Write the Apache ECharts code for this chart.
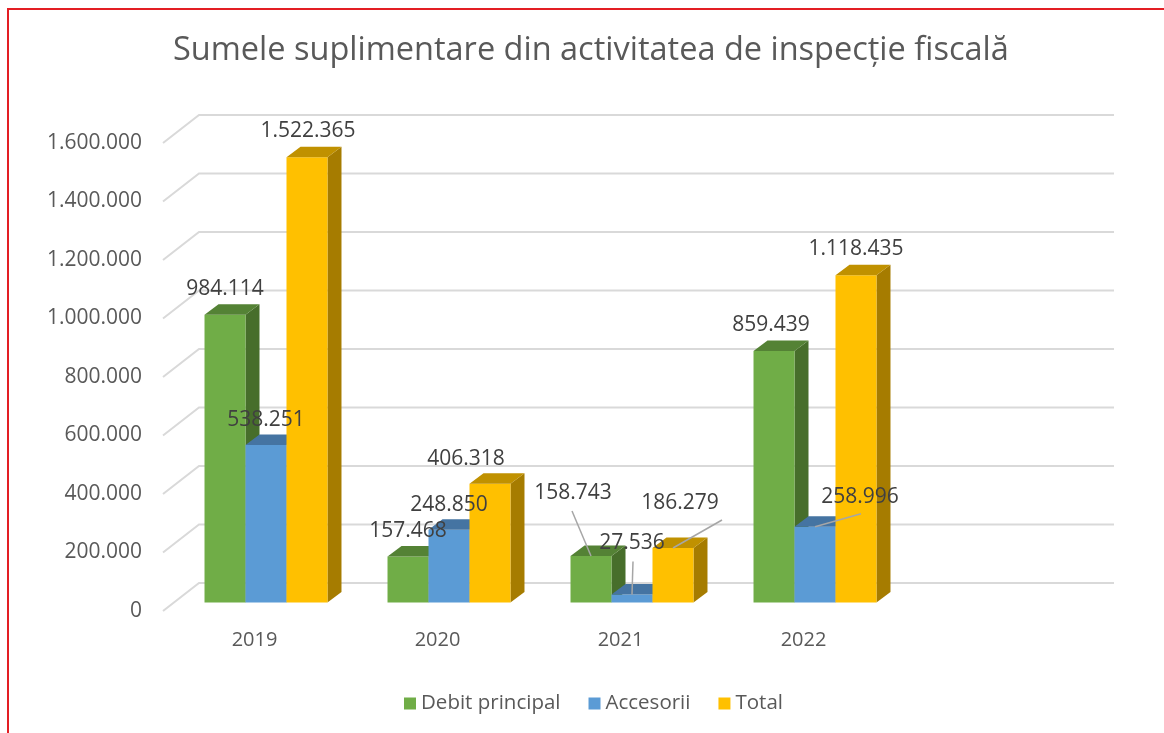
<!DOCTYPE html>
<html lang="ro">
<head>
<meta charset="UTF-8">
<title>Sumele suplimentare</title>
<style>
  html, body { margin: 0; padding: 0; background: #fff; }
  #chart { width: 1164px; height: 733px; }
  .frame {
    position: absolute; left: 7px; top: 8px; right: 0; bottom: 0;
    border-top: 2px solid #e31e24; border-left: 2px solid #e31e24;
    pointer-events: none;
  }
</style>
<script src="https://cdn.jsdelivr.net/npm/echarts@6/dist/echarts.min.js"></script>
</head>
<body>
<div id="chart"></div>
<div class="frame"></div>
<script>
// date
const years = ['2019', '2020', '2021', '2022', ''];
const debitPrincipal = [984114, 157468, 158743, 859439];
const accesorii = [538251, 248850, 27536, 258996];
const total = [1522365, 406318, 186279, 1118435];
const yTicks = [0, 200000, 400000, 600000, 800000, 1000000, 1200000, 1400000, 1600000];

const seriesNames = ['Debit principal', 'Accesorii', 'Total'];
const seriesValues = [debitPrincipal, accesorii, total];

// culori: fata, capac, lateral
const palette = [
  { front: '#70AD47', top: '#548235', side: '#476E2B' },
  { front: '#5B9BD5', top: '#4574A2', side: '#3D6A95' },
  { front: '#FFC000', top: '#C09100', side: '#A67C00' }
];

// deplasari manuale ale etichetelor (ca in Excel)
const labelShift = [
  [[0, 0], [0, 1], [-18, -37], [-3, 0]],
  [[0, 1], [0, 1], [0, -25], [45, -4]],
  [[1, 0], [-24, 1], [7, -19], [0, 0]]
];
// linii de legatura: [serie, an] -> punct de plecare relativ la eticheta
const leaders = { '0-2': [-1, 18], '1-2': [1, 18], '2-2': [42, 17], '1-3': [1, 17] };

const WALL = [36, -28];     // adancimea peretelui din spate
const FRONT = [11.5, -8.5]; // fata barei fata de planul din fata
const DEPTH = [14, -10.5];  // grosimea barei

const fmt = v => String(v).replace(/\B(?=(\d{3})+(?!\d))/g, '.');
const FONT = "'Open Sans', 'Noto Sans', sans-serif";

const chart = echarts.init(document.getElementById('chart'));

function bar3d(k) {
  return function (params, api) {
    const i = api.value(0);
    const v = api.value(1);
    const band = api.size([1, 0])[0];
    const w = band * 0.224;
    const top = api.coord([i, v]);
    const base = api.coord([i, 0]);
    const cx = top[0] + FRONT[0] + (k - 1) * w;
    const x0 = cx - w / 2, x1 = cx + w / 2;
    const yT = top[1] + FRONT[1], yB = base[1] + FRONT[1];
    const c = palette[k];
    const [dx, dy] = DEPTH;
    const sh = labelShift[k][i];
    const lx = cx + sh[0], ly = yT - 26 + sh[1];
    const children = [
      { type: 'polygon', shape: { points: [[x1, yT], [x1 + dx, yT + dy], [x1 + dx, yB + dy], [x1, yB]] }, style: { fill: c.side } },
      { type: 'rect', shape: { x: x0, y: yT, width: w, height: yB - yT }, style: { fill: c.front } },
      { type: 'polygon', shape: { points: [[x0, yT], [x1, yT], [x1 + dx, yT + dy], [x0 + dx, yT + dy]] }, style: { fill: c.top } },
      { type: 'text', z2: 100, x: lx, y: ly, style: { text: fmt(v), fill: '#404040', font: "21px " + FONT, align: 'center', verticalAlign: 'middle' } }
    ];
    const ld = leaders[k + '-' + i];
    if (ld) {
      children.push({ type: 'line', z2: 99, shape: { x1: lx + ld[0], y1: ly + ld[1], x2: cx, y2: yT }, style: { stroke: '#a6a6a6', lineWidth: 1.5 } });
    }
    return { type: 'group', children: children };
  };
}

function wall(params, api) {
  const cs = params.coordSys;
  const y = api.coord([0, api.value(1)])[1];
  return {
    type: 'polyline',
    shape: { points: [[cs.x, y], [cs.x + WALL[0], y + WALL[1]], [cs.x + cs.width + WALL[0], y + WALL[1]]] },
    style: { stroke: '#d9d9d9', lineWidth: 2, fill: null }
  };
}

const option = {
  animation: false,
  title: {
    text: 'Sumele suplimentare din activitatea de inspecție fiscală',
    left: 168,
    top: 29,
    textStyle: { fontFamily: FONT, fontSize: 32.5, fontWeight: 'normal', color: '#595959' }
  },
  legend: {
    data: seriesNames,
    left: 399,
    top: 688,
    icon: 'rect',
    itemWidth: 12,
    itemHeight: 12,
    itemGap: 28,
    textStyle: { fontFamily: FONT, fontSize: 20.5, color: '#595959' }
  },
  grid: { left: 163, right: 86, top: 143, bottom: 122 },
  xAxis: {
    type: 'category',
    data: years,
    axisLine: { show: false },
    axisTick: { show: false },
    axisLabel: { margin: 19, fontFamily: FONT, fontSize: 20, color: '#595959' }
  },
  yAxis: {
    type: 'value',
    min: 0,
    max: 1600000,
    interval: 200000,
    splitLine: { show: false },
    axisLine: { show: false },
    axisLabel: { margin: 21, fontFamily: FONT, fontSize: 21, color: '#595959', formatter: fmt }
  },
  series: [
    {
      name: 'wall',
      type: 'custom',
      z: 1,
      silent: true,
      renderItem: wall,
      data: yTicks.map(v => [0, v])
    }
  ].concat(seriesNames.map((name, k) => ({
    name: name,
    type: 'custom',
    z: 2,
    itemStyle: { color: palette[k].front },
    renderItem: bar3d(k),
    data: seriesValues[k].map((v, i) => [i, v])
  })))
};

chart.setOption(option);
</script>
</body>
</html>
